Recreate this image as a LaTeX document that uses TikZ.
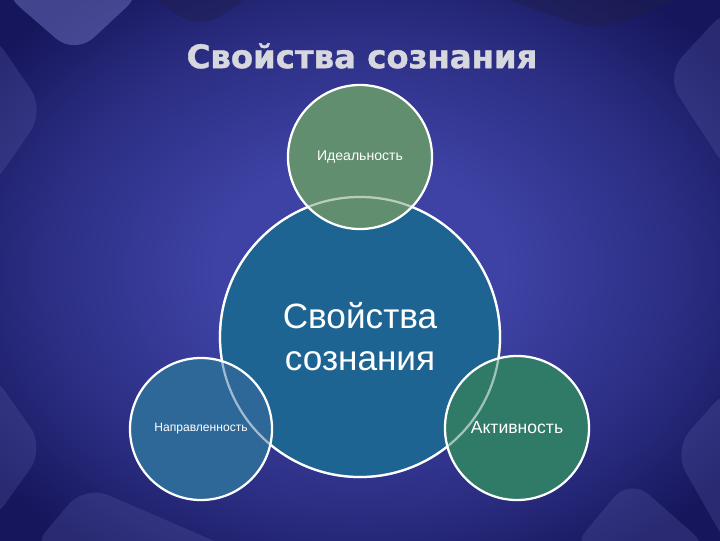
\documentclass[tikz,border=0pt]{standalone}
\usepackage{fontspec}
\setmainfont{Liberation Sans}
\newfontfamily\titlefont[BoldFeatures={FakeBold=1.2}]{DejaVu Sans}
\usetikzlibrary{positioning}

\definecolor{bgin}{RGB}{62,66,164}
\definecolor{bgout}{RGB}{22,22,92}
\definecolor{decoblue}{RGB}{110,114,190}
\definecolor{decodark}{RGB}{30,30,70}
\definecolor{corefill}{RGB}{30,100,146}
\definecolor{idealfill}{RGB}{98,142,112}
\definecolor{directfill}{RGB}{46,104,152}
\definecolor{activefill}{RGB}{48,122,104}
\definecolor{titlegray}{RGB}{214,216,222}

\pgfdeclareradialshading{bgglow}{\pgfpoint{0bp}{0bp}}{color(0bp)=(bgin); color(10bp)=(bgin); color(22bp)=(bgin!55!bgout); color(32bp)=(bgout); color(50bp)=(bgout)}

\begin{document}
\begin{tikzpicture}
    [x=0.025cm, y=-0.025cm,
     every node/.style={align=center, text=white},
     deco/.style={fill=decoblue, fill opacity=0.22, rounded corners=18pt},
     decolight/.style={fill=decoblue, fill opacity=0.5, rounded corners=18pt},
     decoshade/.style={fill=decodark, fill opacity=0.4, rounded corners=18pt},
     bubble/.style={draw=white, line width=1.6pt, circle, inner sep=0pt},
     ring/.style={draw=white, line width=1.6pt, draw opacity=0.55}]
    \useasboundingbox (0, 0) rectangle (720, 540);
    \shade [shading=bgglow] (0, 0) rectangle (720, 540);

    % corner slabs
    \begin{scope}
      \clip (0, 0) rectangle (720, 540);
      \fill [decolight] (0, -10) -- (75, 55) -- (145, -10) -- cycle;
      \fill [decoshade] (140, -10) -- (200, 30) -- (260, -10) -- cycle;
      \fill [deco] (-10, 30) -- (45, 110) -- (-10, 190) -- cycle;
      \fill [decoshade] (480, -10) -- (600, 32) -- (700, -10) -- cycle;
      \fill [deco] (730, 5) -- (665, 75) -- (730, 175) -- cycle;
      \fill [deco] (-10, 370) -- (45, 448) -- (-10, 525) -- cycle;
      \fill [deco] (30, 550) -- (85, 485) -- (235, 550) -- cycle;
      \fill [deco] (730, 385) -- (673, 450) -- (730, 550) -- cycle;
      \fill [deco] (570, 550) -- (630, 478) -- (712, 550) -- cycle;
    \end{scope}

    \node (title) [font=\titlefont\bfseries\fontsize{23}{26}\selectfont, text=titlegray] at (362, 56) {Свойства сознания};

    \node (core) [bubble, fill=corefill, minimum size=7cm, font=\fontsize{25}{30}\selectfont] at (360, 337) {Свойства\\сознания};
    \node (ideal) [bubble, fill=idealfill, minimum size=3.6cm, font=\fontsize{10}{12}\selectfont] at (360, 157) {Идеальность};
    \node (direct) [bubble, fill=directfill, minimum size=3.55cm, font=\fontsize{8.6}{10}\selectfont] at (201, 429) {Направленность};
    \node (active) [bubble, fill=activefill, minimum size=3.6cm, font=\fontsize{12.5}{14}\selectfont] at (517, 428) {Активность};

    \draw [ring] (core.center) circle [radius=3.5cm];
\end{tikzpicture}
\end{document}
